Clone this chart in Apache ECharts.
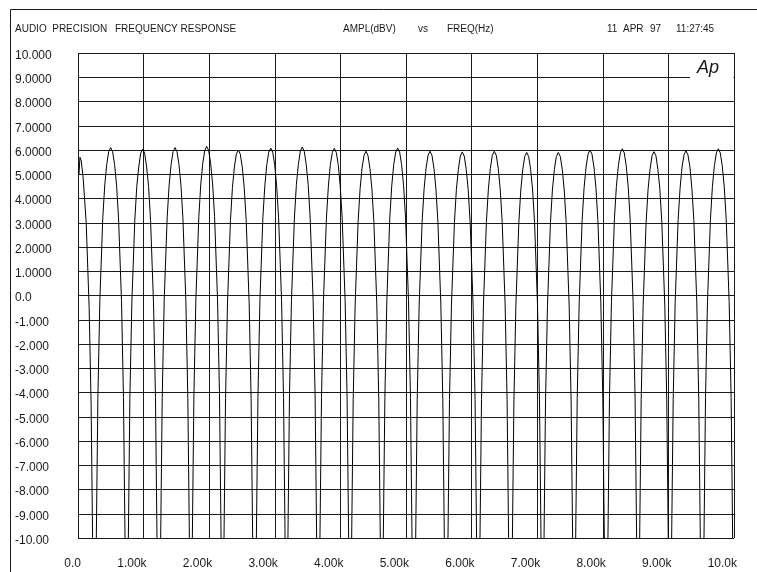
<!DOCTYPE html>
<html>
<head>
<meta charset="utf-8">
<title>Audio Precision frequency response</title>
<script src="https://cdn.jsdelivr.net/npm/echarts@6/dist/echarts.min.js"></script>
<style>
  html, body { margin: 0; padding: 0; background: #fff; }
  #chart { width: 757px; height: 572px; }
</style>
</head>
<body>
<div id="chart"></div>
<script>
  // tick labels as printed on the plot
  const xTickLabels = ['0.0', '1.00k', '2.00k', '3.00k', '4.00k', '5.00k', '6.00k', '7.00k', '8.00k', '9.00k', '10.0k'];
  const yTickLabels = ['-10.00', '-9.000', '-8.000', '-7.000', '-6.000', '-5.000', '-4.000', '-3.000', '-2.000', '-1.000',
    '0.0', '1.0000', '2.0000', '3.0000', '4.0000', '5.0000', '6.0000', '7.0000', '8.0000', '9.0000', '10.000'];

  // sweep: [freq Hz, ampl dBV], one row per lobe, nulls fall below the -10 floor
  const sweep = [
    [15, 5.0], [30, 5.7], [50, 5.55], [80, 4.8], [125, 3.0], [170, -0.5], [200, -4.5], [225, -10.6], [248, -40],
    [278, -10.3], [303, -4.2], [333, -0.2], [378, 3.2], [408, 4.55], [438, 5.4], [468, 5.93], [498, 6.1], [528, 5.93], [558, 5.4], [588, 4.55], [618, 3.2], [663, -0.2], [693, -4.2], [718, -10.3], [742, -40],
    [766, -10.4], [791, -4.2], [821, -0.3], [866, 3.1], [896, 4.5], [926, 5.3], [956, 5.87], [986, 6.04], [1016, 5.87], [1046, 5.3], [1076, 4.5], [1106, 3.1], [1151, -0.3], [1181, -4.2], [1206, -10.4], [1230, -40],
    [1259, -10.3], [1284, -4.2], [1314, -0.2], [1359, 3.2], [1389, 4.55], [1419, 5.4], [1449, 5.93], [1479, 6.1], [1509, 5.93], [1539, 5.4], [1569, 4.55], [1599, 3.2], [1644, -0.2], [1674, -4.2], [1699, -10.3], [1721, -40],
    [1742, -10.25], [1767, -4.1], [1797, -0.15], [1842, 3.25], [1872, 4.6], [1902, 5.45], [1932, 5.98], [1962, 6.15], [1992, 5.98], [2022, 5.45], [2052, 4.6], [2082, 3.25], [2127, -0.15], [2157, -4.1], [2182, -10.25], [2204, -40],
    [2224, -10.4], [2249, -4.25], [2279, -0.3], [2324, 3.1], [2354, 4.45], [2384, 5.3], [2414, 5.83], [2444, 6.0], [2474, 5.83], [2504, 5.3], [2534, 4.45], [2564, 3.1], [2609, -0.3], [2639, -4.25], [2664, -10.4], [2695, -40],
    [2718, -10.3], [2743, -4.2], [2773, -0.2], [2818, 3.2], [2848, 4.53], [2878, 5.4], [2908, 5.91], [2938, 6.08], [2968, 5.91], [2998, 5.4], [3028, 4.53], [3058, 3.2], [3103, -0.2], [3133, -4.2], [3158, -10.3], [3182, -40],
    [3199, -10.3], [3224, -4.1], [3254, -0.2], [3299, 3.2], [3329, 4.57], [3359, 5.4], [3389, 5.95], [3419, 6.12], [3449, 5.95], [3479, 5.4], [3509, 4.57], [3539, 3.2], [3584, -0.2], [3614, -4.1], [3639, -10.3], [3662, -40],
    [3687, -10.3], [3712, -4.2], [3742, -0.2], [3787, 3.2], [3817, 4.52], [3847, 5.4], [3877, 5.9], [3907, 6.07], [3937, 5.9], [3967, 5.4], [3997, 4.52], [4027, 3.2], [4072, -0.2], [4102, -4.2], [4127, -10.3], [4150, -40],
    [4170, -10.45], [4195, -4.3], [4225, -0.35], [4270, 3.05], [4300, 4.4], [4330, 5.25], [4360, 5.78], [4390, 5.95], [4420, 5.78], [4450, 5.25], [4480, 4.4], [4510, 3.05], [4555, -0.35], [4585, -4.3], [4610, -10.45], [4633, -40],
    [4653, -10.3], [4678, -4.2], [4708, -0.2], [4753, 3.2], [4783, 4.53], [4813, 5.4], [4843, 5.91], [4873, 6.08], [4903, 5.91], [4933, 5.4], [4963, 4.53], [4993, 3.2], [5038, -0.2], [5068, -4.2], [5093, -10.3], [5121, -40],
    [5146, -10.45], [5171, -4.3], [5201, -0.35], [5246, 3.05], [5276, 4.4], [5306, 5.25], [5336, 5.78], [5366, 5.95], [5396, 5.78], [5426, 5.25], [5456, 4.4], [5486, 3.05], [5531, -0.35], [5561, -4.3], [5586, -10.45], [5612, -40],
    [5638, -10.5], [5663, -4.3], [5693, -0.4], [5738, 3.0], [5768, 4.37], [5798, 5.2], [5828, 5.75], [5858, 5.92], [5888, 5.75], [5918, 5.2], [5948, 4.37], [5978, 3.0], [6023, -0.4], [6053, -4.3], [6078, -10.5], [6100, -40],
    [6126, -10.45], [6151, -4.3], [6181, -0.35], [6226, 3.05], [6256, 4.4], [6286, 5.25], [6316, 5.78], [6346, 5.95], [6376, 5.78], [6406, 5.25], [6436, 4.4], [6466, 3.05], [6511, -0.35], [6541, -4.3], [6566, -10.45], [6595, -40],
    [6620, -10.5], [6645, -4.35], [6675, -0.4], [6720, 3.0], [6750, 4.35], [6780, 5.2], [6810, 5.73], [6840, 5.9], [6870, 5.73], [6900, 5.2], [6930, 4.35], [6960, 3.0], [7005, -0.4], [7035, -4.35], [7060, -10.5], [7078, -40],
    [7102, -10.5], [7127, -4.35], [7157, -0.4], [7202, 3.0], [7232, 4.35], [7262, 5.2], [7292, 5.73], [7322, 5.9], [7352, 5.73], [7382, 5.2], [7412, 4.35], [7442, 3.0], [7487, -0.4], [7517, -4.35], [7542, -10.5], [7560, -40],
    [7585, -10.4], [7610, -4.25], [7640, -0.3], [7685, 3.1], [7715, 4.45], [7745, 5.3], [7775, 5.83], [7805, 6.0], [7835, 5.83], [7865, 5.3], [7895, 4.45], [7925, 3.1], [7970, -0.3], [8000, -4.25], [8025, -10.4], [8048, -40],
    [8077, -10.35], [8102, -4.2], [8132, -0.25], [8177, 3.15], [8207, 4.5], [8237, 5.35], [8267, 5.88], [8297, 6.05], [8327, 5.88], [8357, 5.35], [8387, 4.5], [8417, 3.15], [8462, -0.25], [8492, -4.2], [8517, -10.35], [8538, -40],
    [8560, -10.5], [8585, -4.3], [8615, -0.4], [8660, 3.0], [8690, 4.38], [8720, 5.2], [8750, 5.76], [8780, 5.93], [8810, 5.76], [8840, 5.2], [8870, 4.38], [8900, 3.0], [8945, -0.4], [8975, -4.3], [9000, -10.5], [9024, -40],
    [9048, -10.4], [9073, -4.3], [9103, -0.3], [9148, 3.1], [9178, 4.42], [9208, 5.3], [9238, 5.8], [9268, 5.97], [9298, 5.8], [9328, 5.3], [9358, 4.42], [9388, 3.1], [9433, -0.3], [9463, -4.3], [9488, -10.4], [9516, -40],
    [9541, -10.35], [9566, -4.2], [9596, -0.25], [9641, 3.15], [9671, 4.5], [9701, 5.35], [9731, 5.88], [9761, 6.05], [9791, 5.88], [9821, 5.35], [9851, 4.5], [9881, 3.15], [9926, -0.25], [9956, -4.2], [9981, -10.35], [10000, -40]
  ];

  const ink = '#1a1a1a';
  const font = 'Liberation Sans';

  let chart = echarts.init(document.getElementById('chart'));

  function headText(x, str) {
    return {
      type: 'text', left: x, top: 24,
      style: { text: str, fill: ink, font: '10px "' + font + '"' }
    };
  }

  let option = {
    backgroundColor: '#fff',
    animation: false,
    grid: { left: 78, top: 53, width: 656, height: 485 },
    xAxis: {
      type: 'value', min: 0, max: 10000, interval: 1000,
      axisLine: { show: false },
      axisTick: { show: false },
      splitLine: { show: true, lineStyle: { color: ink, width: 1 } },
      axisLabel: {
        margin: 20, fontSize: 12, fontFamily: font, color: ink,
        align: 'right', padding: [0, -3, 0, 0],
        formatter: function (v) { return xTickLabels[Math.round(v / 1000)]; }
      }
    },
    yAxis: {
      type: 'value', min: -10, max: 10, interval: 1,
      axisLine: { show: false },
      axisTick: { show: false },
      splitLine: { show: true, lineStyle: { color: ink, width: 1 } },
      axisLabel: {
        margin: 63, fontSize: 12, fontFamily: font, color: ink,
        align: 'left', verticalAlign: 'top', lineHeight: 5,
        formatter: function (v) { return yTickLabels[Math.round(v) + 10]; }
      }
    },
    series: [{
      type: 'line',
      data: sweep,
      showSymbol: false,
      clip: true,
      silent: true,
      lineStyle: { color: '#000', width: 1 }
    }],
    graphic: [
      // page frame
      { type: 'line', shape: { x1: 10.5, y1: 9.5, x2: 757, y2: 9.5 }, style: { stroke: ink, lineWidth: 1 } },
      { type: 'line', shape: { x1: 10.5, y1: 9.5, x2: 10.5, y2: 572 }, style: { stroke: ink, lineWidth: 1 } },
      headText(15, 'AUDIO  PRECISION'),
      headText(115, 'FREQUENCY RESPONSE'),
      headText(343, 'AMPL(dBV)'),
      headText(418, 'vs'),
      headText(447, 'FREQ(Hz)'),
      headText(607, '11'),
      headText(623, 'APR'),
      headText(650, '97'),
      headText(676, '11:27:45'),
      // Ap mark sits in a gap of the 9.0 line
      { type: 'rect', z: 100, shape: { x: 690, y: 71, width: 43.5, height: 12 }, style: { fill: '#fff' } },
      {
        type: 'text', z: 101, left: 697, top: 59,
        style: { text: 'Ap', fill: ink, font: 'italic 18px "' + font + '"' }
      }
    ]
  };

  chart.setOption(option);
</script>
</body>
</html>
